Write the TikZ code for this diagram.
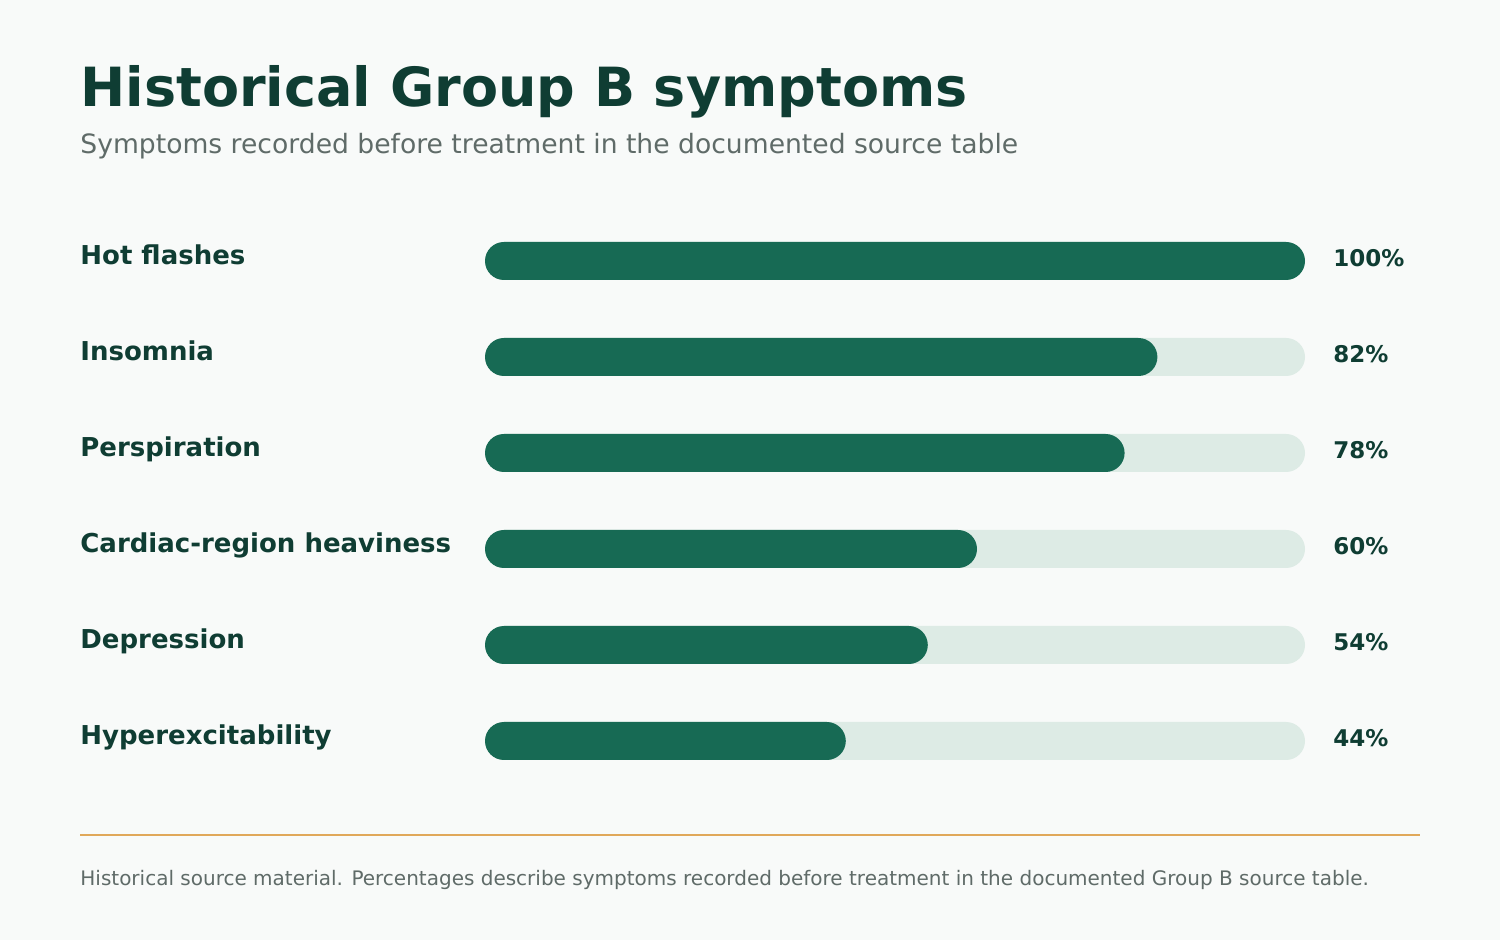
\documentclass[tikz,border=0pt]{standalone}
\usepackage{fontspec}
\setmainfont{DejaVu Sans}
\usetikzlibrary{positioning}
\definecolor{bgpaper}{HTML}{F8FAF9}
\definecolor{inkgreen}{HTML}{0F3D33}
\definecolor{barfill}{HTML}{176A54}
\definecolor{bartrack}{HTML}{DDEBE5}
\definecolor{softgray}{HTML}{5F6B68}
\definecolor{rulegold}{HTML}{E0A85A}
\tikzset{
  title/.style={anchor=base west, inner sep=0pt, text=inkgreen, font=\bfseries\fontsize{27}{32}\selectfont},
  subtitle/.style={anchor=base west, inner sep=0pt, text=softgray, font=\fontsize{13.3}{16}\selectfont},
  rowlabel/.style={anchor=base west, inner sep=0pt, text=inkgreen, font=\bfseries\fontsize{13}{16}\selectfont},
  pctlabel/.style={anchor=base west, inner sep=0pt, text=inkgreen, font=\bfseries\fontsize{11.5}{14}\selectfont},
  footnote/.style={anchor=base west, inner sep=0pt, text=softgray, font=\fontsize{10}{12}\selectfont},
  track/.style={fill=bartrack, rounded corners=9.5pt},
  bar/.style={fill=barfill, rounded corners=9.5pt}
}
\begin{document}
\begin{tikzpicture}[x=0.5pt, y=-0.5pt]
  \fill[bgpaper] (0,0) rectangle (1500,940);
  \node[title] (head) at (80,107) {Historical Group B symptoms};
  \node[subtitle] (sub) at (80,154) {Symptoms recorded before treatment in the documented source table};
  % rows
  \foreach \name/\pct [count=\k from 0] in {Hot flashes/100, Insomnia/82, Perspiration/78,
      Cardiac-region heaviness/60, Depression/54, Hyperexcitability/44}{
    \pgfmathsetmacro{\ytop}{242+96*\k}
    \pgfmathsetmacro{\xend}{485+8.2*\pct}
    \fill[track] (485,\ytop) rectangle (1305,\ytop+38);
    \fill[bar] (485,\ytop) rectangle (\xend,\ytop+38);
    \node[rowlabel] (lab\k) at (80,\ytop+23) {\name};
    \node[pctlabel] (pct\k) at (1333,\ytop+25) {\pct\%};
  }
  \coordinate (ruleL) at (80,835);
  \coordinate (ruleR) at (1420,835);
  \draw[rulegold, line width=1.2pt] (ruleL) -- (ruleR);
  \node[footnote] (foot) at (80,885) {Historical source material. Percentages describe symptoms recorded before treatment in the documented Group B source table.};
\end{tikzpicture}
\end{document}
